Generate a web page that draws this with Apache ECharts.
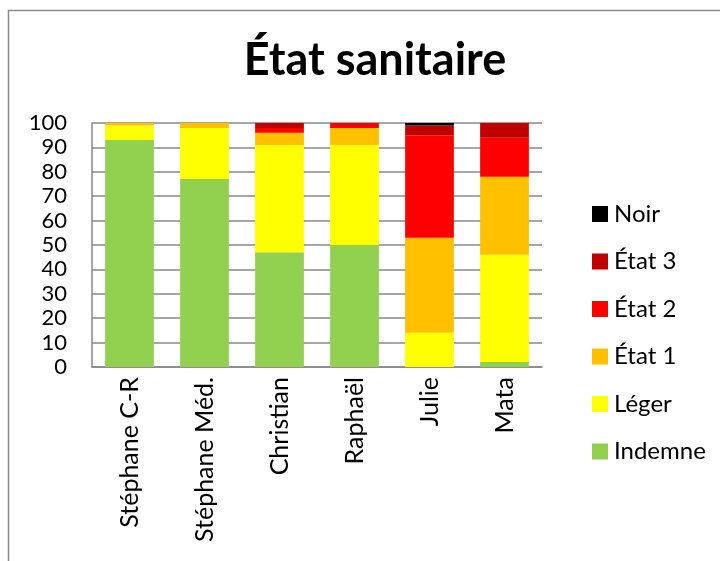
<!DOCTYPE html>
<html><head><meta charset="utf-8">
<script src="https://cdn.jsdelivr.net/npm/echarts@6/dist/echarts.min.js"></script>
<style>html,body{margin:0;padding:0;background:#fff}#c{width:720px;height:561px}</style>
</head><body><div id="c"></div>
<script>
const categories = ['Stéphane C-R', 'Stéphane Méd.', 'Christian', 'Raphaël', 'Julie', 'Mata'];
const indemne = [93, 77, 47, 50, 0, 2];
const leger   = [6, 21, 44, 41, 14, 44];
const etat1   = [1, 2, 5, 7, 39, 32];
const etat2   = [0, 0, 2, 2, 42, 16];
const etat3   = [0, 0, 2, 0, 4, 6];
const noir    = [0, 0, 0, 0, 1, 0];
const yTicks = [0, 10, 20, 30, 40, 50, 60, 70, 80, 90, 100];

const font = 'Lato, "Open Sans", sans-serif';
const seriesDefs = [
  ['Indemne', indemne, '#92D050'],
  ['Léger', leger, '#FFFF00'],
  ['État 1', etat1, '#FFC000'],
  ['État 2', etat2, '#FF0000'],
  ['État 3', etat3, '#C00000'],
  ['Noir', noir, '#000000']
];
const chart = echarts.init(document.getElementById('c'));
chart.setOption({
  animation: false,
  title: {
    text: 'État sanitaire', left: 370, top: 33, textAlign: 'center',
    textStyle: {fontFamily: font, fontSize: 45, fontWeight: 'bold', color: '#000'}
  },
  graphic: [{
    type: 'polyline', silent: true,
    shape: {points: [[8.5, 561], [8.5, 10.5], [720, 10.5]]},
    style: {stroke: '#8a8a8a', lineWidth: 1.5, fill: null}
  }],
  legend: {
    orient: 'vertical', left: 587, top: 197, itemGap: 23.5,
    itemWidth: 16, itemHeight: 16,
    data: ['Noir', 'État 3', 'État 2', 'État 1', 'Léger', 'Indemne'],
    textStyle: {fontFamily: font, fontSize: 24, color: '#000', padding: [0, 0, 0, 1]},
    icon: 'rect'
  },
  grid: {left: 92, right: 178, top: 123, bottom: 194},
  xAxis: {
    type: 'category', data: categories,
    axisLine: {lineStyle: {color: '#888', width: 1.5}},
    axisTick: {show: false},
    axisLabel: {rotate: 90, interval: 0, margin: 10, fontFamily: font, fontSize: 25, color: '#000'}
  },
  yAxis: {
    type: 'value', min: yTicks[0], max: yTicks[yTicks.length - 1], interval: 10,
    axisLine: {show: true, lineStyle: {color: '#888', width: 1.5}},
    axisTick: {show: false},
    splitLine: {lineStyle: {color: '#888', width: 1.5}},
    axisLabel: {margin: 25, fontFamily: font, fontSize: 22, color: '#000'}
  },
  series: seriesDefs.map(([name, data, color]) => ({
    name, type: 'bar', stack: 'total', data, barWidth: '65%',
    itemStyle: {color}
  }))
});
</script></body></html>
